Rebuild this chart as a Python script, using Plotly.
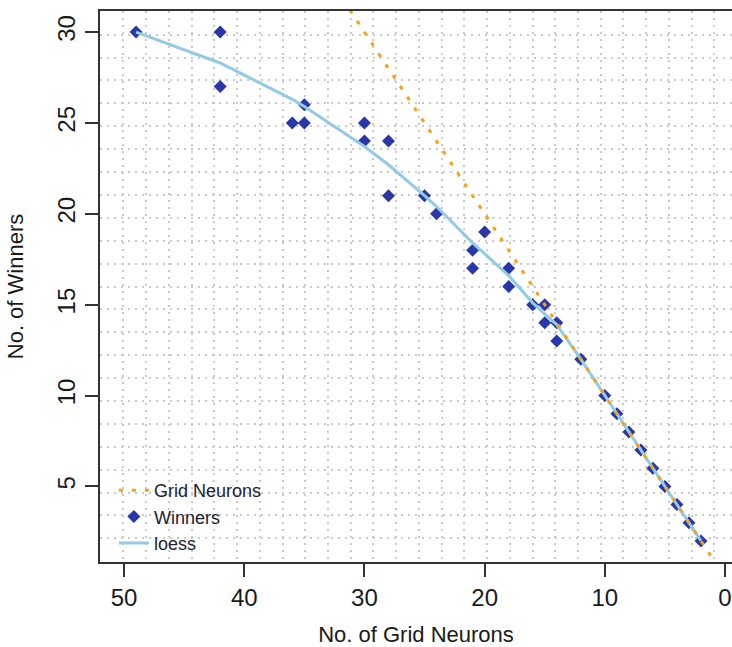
import plotly.graph_objects as go

# ---- data ----
winner_x = [49, 42, 42, 36, 35, 35, 30, 30, 28, 28, 25, 24, 21, 21, 20, 18, 18,
            16, 15, 15, 14, 14, 12, 10, 9, 8, 7, 6, 5, 4, 3, 2]
winner_y = [30, 30, 27, 25, 25, 26, 25, 24, 24, 21, 21, 20, 18, 17, 19, 17, 16,
            15, 15, 14, 14, 13, 12, 10, 9, 8, 7, 6, 5, 4, 3, 2]

loess_x = [49, 42, 36, 35, 30, 28, 25, 24, 21, 20, 18, 16, 15, 14, 12, 10, 9, 8,
           7, 6, 5, 4, 3, 2]
loess_y = [30.0, 28.3, 26.3, 25.9, 23.7, 22.7, 21.0, 20.4, 18.4, 17.8, 16.6, 15.1,
           14.5, 13.9, 12.0, 10.0, 9.0, 8.0, 7.0, 6.0, 5.0, 4.0, 3.0, 2.0]

grid_neurons_x = [0, 50]
grid_neurons_y = [0, 50]

x_ticks = [0, 10, 20, 30, 40, 50]
y_ticks = [5, 10, 15, 20, 25, 30]

# ---- style ----
FONT = "Liberation Sans, Arial, sans-serif"
AXIS_COL = "#333333"
x_grid = [50.05 - 1.891 * k for k in range(27)]
y_grid = [31.12 - 1.26 * k for k in range(1, 24)]

fig = go.Figure()

fig.add_trace(go.Scatter(
    x=winner_x, y=winner_y, mode="markers", name="Winners", legendrank=2,
    marker=dict(symbol="diamond", size=10, color="#2A37A8"),
))
fig.add_trace(go.Scatter(
    x=loess_x, y=loess_y, mode="lines", name="loess", legendrank=3,
    line=dict(color="#92CBE2", width=3),
))
fig.add_trace(go.Scatter(
    x=grid_neurons_x, y=grid_neurons_y, mode="lines", name="Grid Neurons",
    legendrank=1,
    line=dict(color="#F5A01E", width=3, dash="4px,9px"),
))

axis_common = dict(
    showgrid=False, zeroline=False, showline=True, linecolor=AXIS_COL,
    linewidth=2, ticks="outside", ticklen=13, tickwidth=2, tickcolor=AXIS_COL,
    tickfont=dict(family=FONT, size=24, color="#1a1a1a"),
)

fig.update_layout(
    width=732, height=647,
    margin=dict(l=100, r=0, t=11, b=85),
    paper_bgcolor="white", plot_bgcolor="white",
    font=dict(family=FONT, color="#1a1a1a"),
    xaxis=dict(
        range=[52, -0.58], tickmode="array", tickvals=x_ticks, mirror=True,
        title=dict(text="No. of Grid Neurons", font=dict(family=FONT, size=22),
                   standoff=18),
        minor=dict(tickmode="array", tickvals=x_grid, showgrid=True,
                   gridcolor="#CACACA", griddash="2px,5px", gridwidth=1.5,
                   ticks=""),
        **axis_common,
    ),
    yaxis=dict(
        range=[0.84, 31.16], tickmode="array", tickvals=y_ticks, tickangle=-90,
        title=dict(text="No. of Winners", font=dict(family=FONT, size=22),
                   standoff=24),
        minor=dict(tickmode="array", tickvals=y_grid, showgrid=True,
                   gridcolor="#CACACA", griddash="2px,5px", gridwidth=1.5,
                   ticks=""),
        **axis_common,
    ),
    legend=dict(
        x=0.022, y=0.0, xanchor="left", yanchor="bottom",
        bgcolor="rgba(0,0,0,0)", font=dict(family=FONT, size=18, color="#222233"),
        tracegroupgap=0,
    ),
)

fig.write_html("out.html")
